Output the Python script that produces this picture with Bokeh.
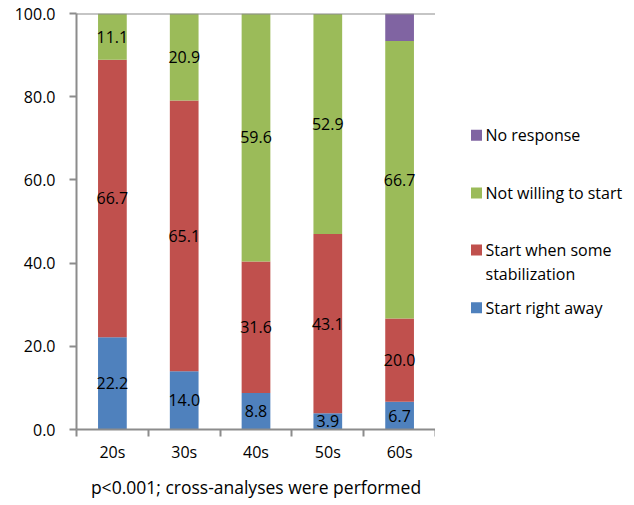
from bokeh.plotting import figure
from bokeh.layouts import row
from bokeh.models import (ColumnDataSource, FixedTicker, Range1d, Title, Span,
                          NumeralTickFormatter)
from bokeh.core.properties import value
from bokeh.embed import file_html
from bokeh.resources import INLINE

# Age groups and response shares (%)
groups = ["20s", "30s", "40s", "50s", "60s"]
start_right_away = [22.2, 14.0, 8.8, 3.9, 6.7]
start_when_stable = [66.7, 65.1, 31.6, 43.1, 20.0]
not_willing = [11.1, 20.9, 59.6, 52.9, 66.7]
no_response = [0.0, 0.0, 0.0, 0.0, 6.6]

series_names = ["Start right away", "Start when some\nstabilization",
                "Not willing to start", "No response"]
series_values = [start_right_away, start_when_stable, not_willing, no_response]
series_colors = ["#4F81BD", "#C0504D", "#9BBB59", "#8064A2"]
labelled = [True, True, True, False]

y_ticks = [0, 20, 40, 60, 80, 100]
caption = "p<0.001; cross-analyses were performed"

FONT = "Open Sans"
FS = "16px"
AXIS_GREY = "#8c8c8c"

n = len(groups)
xs = [i + 0.5 for i in range(n)]

TOP, BOTTOM = 13, 75

p = figure(width=435, height=505, output_backend="svg", toolbar_location=None,
           x_range=Range1d(0, n), y_range=Range1d(0, 100),
           min_border_left=76, min_border_right=0, min_border_top=TOP,
           min_border_bottom=BOTTOM)
p.outline_line_color = None
p.xgrid.visible = False
p.ygrid.visible = False

# stacked segments
bottoms = [0.0] * n
for name, vals, color, show in zip(series_names, series_values, series_colors, labelled):
    tops = [b + v for b, v in zip(bottoms, vals)]
    src = ColumnDataSource(dict(
        x=xs, bottom=bottoms, top=tops,
        mid=[(b + t) / 2 for b, t in zip(bottoms, tops)],
        txt=[f"{v:.1f}" for v in vals]))
    p.vbar(x="x", bottom="bottom", top="top", width=0.4, source=src,
           fill_color=color, line_color=None)
    if show:
        p.text(x="x", y="mid", text="txt", source=src,
               text_font=value(FONT), text_font_size=FS,
               text_align="center", text_baseline="middle", text_color="black")
    bottoms = tops

# line across the top of the plot area at 100
p.add_layout(Span(location=100, dimension="width", line_color=AXIS_GREY,
                  line_width=2))

# y axis
p.yaxis.ticker = FixedTicker(ticks=y_ticks, minor_ticks=[])
p.yaxis.formatter = NumeralTickFormatter(format="0.0")
p.yaxis.axis_line_color = AXIS_GREY
p.yaxis.axis_line_width = 2
p.yaxis.major_tick_line_color = AXIS_GREY
p.yaxis.major_tick_line_width = 2
p.yaxis.major_tick_out = 7
p.yaxis.major_tick_in = 0
p.yaxis.major_label_standoff = 14
p.yaxis.major_label_text_font = FONT
p.yaxis.major_label_text_font_size = FS
p.yaxis.major_label_text_color = "black"

# x axis: labels at bar centres, tick marks at category boundaries
p.xaxis.ticker = FixedTicker(ticks=xs, minor_ticks=list(range(n + 1)))
p.xaxis.major_label_overrides = {x: g for x, g in zip(xs, groups)}
p.xaxis.axis_line_color = AXIS_GREY
p.xaxis.axis_line_width = 2
p.xaxis.major_tick_line_color = None
p.xaxis.minor_tick_line_color = AXIS_GREY
p.xaxis.minor_tick_line_width = 2
p.xaxis.minor_tick_out = 7
p.xaxis.minor_tick_in = 0
p.xaxis.major_label_standoff = 4
p.xaxis.major_label_text_font = FONT
p.xaxis.major_label_text_font_size = FS
p.xaxis.major_label_text_color = "black"

p.add_layout(Title(text=caption, align="center", text_font=FONT,
                   text_font_size="17.5px", text_font_style="normal",
                   text_color="black", standoff=14), "below")

# legend panel, using pixel-like coordinates (y grows downward)
leg = figure(width=199, height=505, output_backend="svg", toolbar_location=None,
             x_range=Range1d(0, 199), y_range=Range1d(505 - BOTTOM, TOP),
             min_border_left=0, min_border_right=0, min_border_top=TOP,
             min_border_bottom=BOTTOM)
leg.axis.visible = False
leg.grid.visible = False
leg.outline_line_color = None

order = [3, 2, 1, 0]
leg_y = [135, 193, 250, 308]
leg_src = ColumnDataSource(dict(
    x=[41] * 4, y=leg_y,
    ty=[yy - 11 for yy in leg_y],
    color=[series_colors[i] for i in order],
    name=[series_names[i] for i in order]))
leg.rect(x="x", y="y", width=11, height=11, source=leg_src,
         fill_color="color", line_color=None)
leg.text(x=50, y="ty", text="name", source=leg_src,
         text_font=value(FONT), text_font_size=FS, text_color="black",
         text_align="left", text_baseline="top", text_line_height=1.1)

layout = row(p, leg)
open("out.html", "w").write(file_html(layout, INLINE))
